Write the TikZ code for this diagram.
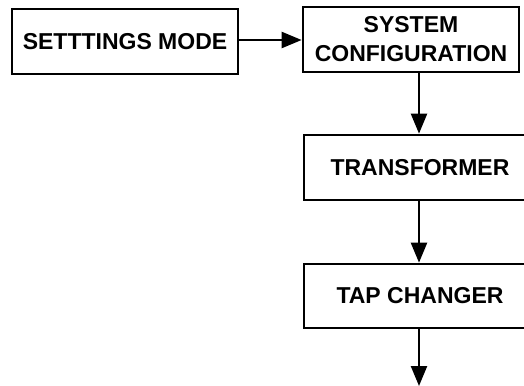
\documentclass[tikz,border=0pt]{standalone}
\usepackage{fontspec}
\setmainfont{Liberation Sans}
\usetikzlibrary{arrows.meta}
\begin{document}
\begin{tikzpicture}[x=1pt,y=-1pt,
  blk/.style={draw, line width=2.7pt, rectangle, inner sep=0pt, align=center,
    font=\fontsize{23}{29}\selectfont\bfseries},
  conn/.style={line width=2.3pt, -{Triangle[length=20pt,width=16pt]}}]
\clip (0,0) rectangle (524,385);
\useasboundingbox (0,0) rectangle (524,385);
\node[blk, minimum width=226pt, minimum height=65pt] (a) at (125,41.5) {SETTTINGS MODE};
\node[blk, minimum width=216pt, minimum height=65pt] (b) at (411,39.5) {SYSTEM\\CONFIGURATION};
\node[blk, minimum width=232pt, minimum height=65pt] (c) at (420,167.5) {TRANSFORMER};
\node[blk, minimum width=232pt, minimum height=64pt] (d) at (420,296) {TAP CHANGER};
\coordinate (e) at (419,386);
\draw[conn] (a.east |- 0,40) -- (b.west |- 0,40);
\draw[conn] (419,0 |- b.south) -- (419,0 |- c.north);
\draw[conn] (419,0 |- c.south) -- (419,0 |- d.north);
\draw[conn] (419,0 |- d.south) -- (e);
\end{tikzpicture}
\end{document}
